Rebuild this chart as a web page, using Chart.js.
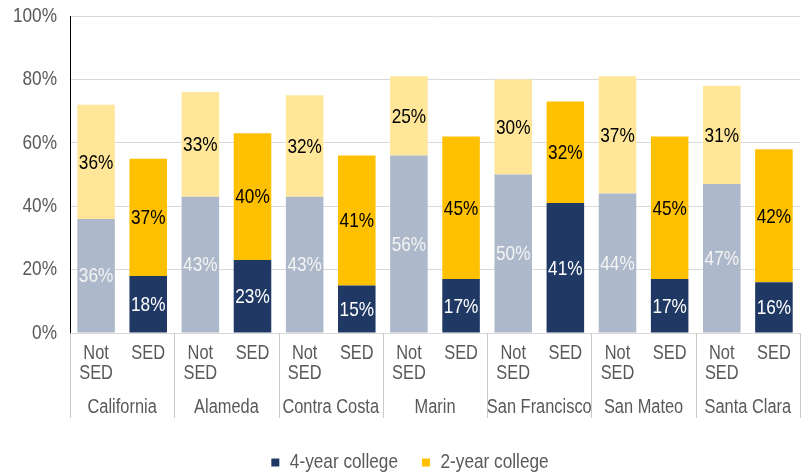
<!DOCTYPE html>
<html>
<head>
<meta charset="utf-8">
<script src="https://cdn.jsdelivr.net/npm/chart.js@4.4.1/dist/chart.umd.min.js"></script>
<style>
html,body{margin:0;padding:0;background:#fff;}
#wrap{width:812px;height:474px;}
</style>
</head>
<body>
<div id="wrap"><canvas id="c" width="812" height="474"></canvas></div>
<script>
const counties = ["California","Alameda","Contra Costa","Marin","San Francisco","San Mateo","Santa Clara"];
const groups = ["Not SED","SED"];
const fourYear = [36,18,43,23,43,15,56,17,50,41,44,17,47,16];
const twoYear  = [36,37,33,40,32,41,25,45,30,32,37,45,31,42];
const yTicks = [0,20,40,60,80,100];

const FONT = "'Liberation Sans Narrow','Arial Narrow','Liberation Sans',sans-serif";
const NAVY = "#203864", GOLD = "#FFC000", GRAYBLUE = "#ADB9CA", LIGHTGOLD = "#FFE699";

// Condense text horizontally (narrow font look) while keeping it real text
const canvas = document.getElementById('c');
const ctx2d = canvas.getContext('2d');
const SX = 0.82;
const P = CanvasRenderingContext2D.prototype;
ctx2d.fillText = function (t, x, y) {
  this.save(); this.translate(x, y); this.scale(SX, 1);
  P.fillText.call(this, t, 0, 0);
  this.restore();
};
ctx2d.measureText = function (t) {
  const m = P.measureText.call(this, t);
  return {
    width: m.width * SX,
    actualBoundingBoxAscent: m.actualBoundingBoxAscent,
    actualBoundingBoxDescent: m.actualBoundingBoxDescent,
    actualBoundingBoxLeft: m.actualBoundingBoxLeft * SX,
    actualBoundingBoxRight: m.actualBoundingBoxRight * SX
  };
};

const labels = [];
counties.forEach(() => groups.forEach(g => labels.push(g === "Not SED" ? ["Not","SED"] : "SED")));

const fourColors = labels.map((l,i) => i % 2 === 0 ? GRAYBLUE : NAVY);
const twoColors  = labels.map((l,i) => i % 2 === 0 ? LIGHTGOLD : GOLD);

const valueLabels = {
  id: 'valueLabels',
  afterDatasetsDraw(chart) {
    const ctx = chart.ctx;
    ctx.save();
    ctx.font = "21px " + FONT;
    ctx.textAlign = 'center';
    ctx.textBaseline = 'middle';
    chart.data.datasets.forEach((ds, di) => {
      const meta = chart.getDatasetMeta(di);
      meta.data.forEach((bar, i) => {
        const v = ds.data[i];
        const cy = (bar.y + bar.base) / 2;
        ctx.fillStyle = di === 0 ? (i % 2 === 0 ? "#F4F4F4" : "#FFFFFF") : "#000000";
        ctx.fillText(v + "%", bar.x, cy + 1);
      });
    });
    ctx.restore();
  }
};

const groupLabels = {
  id: 'groupLabels',
  afterDraw(chart) {
    const ctx = chart.ctx;
    const xs = chart.scales.x;
    const area = chart.chartArea;
    const step = (xs.right - xs.left) / labels.length;
    ctx.save();
    ctx.strokeStyle = "#C9C9C9";
    ctx.lineWidth = 1;
    for (let k = 0; k <= counties.length; k++) {
      const x = Math.round(xs.left + k * 2 * step) + 0.5;
      ctx.beginPath();
      ctx.moveTo(x, area.bottom);
      ctx.lineTo(x, area.bottom + 85);
      ctx.stroke();
    }
    ctx.fillStyle = "#595959";
    ctx.font = "20px " + FONT;
    ctx.textAlign = 'center';
    ctx.textBaseline = 'middle';
    counties.forEach((c, k) => {
      const cx = (xs.getPixelForValue(2*k) + xs.getPixelForValue(2*k+1)) / 2;
      ctx.fillText(c, cx, area.bottom + 74);
    });
    ctx.restore();
  }
};

new Chart(canvas, {
  type: 'bar',
  data: {
    labels: labels,
    datasets: [
      { label: '4-year college', data: fourYear, backgroundColor: fourColors, legendColor: NAVY,
        barPercentage: 0.72, categoryPercentage: 1.0 },
      { label: '2-year college', data: twoYear, backgroundColor: twoColors, legendColor: GOLD,
        barPercentage: 0.72, categoryPercentage: 1.0 }
    ]
  },
  options: {
    responsive: false,
    animation: false,
    devicePixelRatio: 1,
    layout: { padding: { top: 16, right: 0, left: 8, bottom: -9 } },
    plugins: {
      tooltip: { enabled: false },
      legend: {
        position: 'bottom',
        labels: {
          color: '#595959',
          font: { family: FONT, size: 21 },
          boxWidth: 8, boxHeight: 8, padding: 24,
          generateLabels(chart) {
            return chart.data.datasets.map((ds, i) => ({
              text: ds.label, fillStyle: ds.legendColor, strokeStyle: ds.legendColor,
              lineWidth: 0, hidden: false, datasetIndex: i, fontColor: '#595959'
            }));
          }
        }
      }
    },
    scales: {
      x: {
        stacked: true,
        grid: { display: false, drawTicks: false },
        border: { display: true, color: '#D9D9D9' },
        ticks: { color: '#595959', font: { family: FONT, size: 20, lineHeight: 1.0 }, padding: 10, maxRotation: 0, autoSkip: false },
        afterFit(s) { s.height = 95; s.paddingRight = 12; s.paddingLeft = 0; }
      },
      y: {
        stacked: true,
        min: 0, max: 100,
        afterBuildTicks(s) { s.ticks = yTicks.map(v => ({ value: v })); },
        grid: { color: '#D9D9D9', drawTicks: false },
        border: { display: true, color: '#000000' },
        ticks: { color: '#595959', font: { family: FONT, size: 21 }, padding: 13, callback: v => v + '%' },
        afterFit(s) { s.width = 62; s.paddingTop = 0; s.paddingBottom = 0; }
      }
    }
  },
  plugins: [valueLabels, groupLabels]
});
</script>
</body>
</html>
